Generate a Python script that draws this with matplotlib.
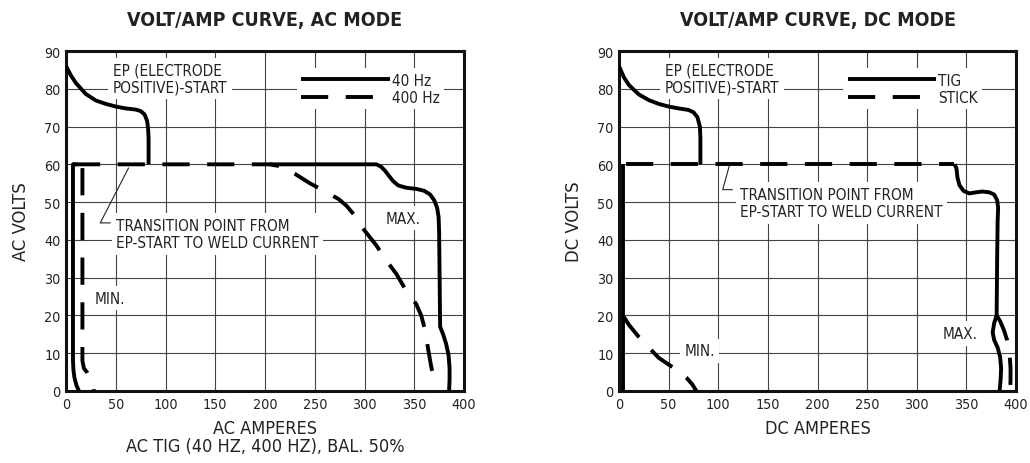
import matplotlib
matplotlib.use('Agg')
from matplotlib import pyplot as plt

plt.rcParams['font.family'] = ['DejaVu Sans']
plt.rcParams['font.stretch'] = 'condensed'

# AC mode, 40 Hz (solid)
ac40_ep_amps = [0, 5, 10, 20, 30, 40, 50, 60, 70, 75, 79, 81.5, 82.5, 83, 83]
ac40_ep_volts = [86, 83.5, 81.5, 78.6, 76.9, 76, 75.3, 74.8, 74.5, 74.1, 73.2, 71.5, 69.5, 67, 60]
ac40_min_amps = [11, 7, 7, 7.5, 8.5, 10.5, 13]
ac40_min_volts = [60, 60, 8, 5.5, 3.5, 1.5, 0]
ac40_max_amps = [205, 300, 312, 317, 321, 325, 329, 334, 342, 352, 360, 366, 370, 373, 374.5,
                 375, 375.5, 376, 379, 382, 384.5, 385.5, 385.5, 385]
ac40_max_volts = [60, 60, 60, 59.3, 58.2, 56.8, 55.5, 54.4, 53.8, 53.5, 53, 52, 50.5, 48.5, 46,
                  42, 30, 17, 15, 12.5, 9.5, 6, 3, 0]

# AC mode, 400 Hz (dashed)
ac400_min_amps = [16.5, 16.5, 18, 21, 24, 26.5, 28]
ac400_min_volts = [59, 8, 6, 5, 3.5, 2, 0]
ac400_max_amps = [7, 205, 215, 230, 245, 262, 274, 282, 290, 300, 312, 322, 332, 342, 352,
                  357, 361, 364, 367, 370]
ac400_max_volts = [60, 60, 59.5, 57.5, 55, 52.6, 50.8, 49, 46.5, 42.5, 38.5, 34.5, 31, 26.5, 23,
                   20, 16, 11, 6.5, 3]

# DC mode, TIG (solid)
tig_ep_amps = [0, 5, 10, 20, 30, 40, 50, 60, 70, 75, 79, 81.5, 82, 82]
tig_ep_volts = [86, 83, 81, 78.5, 77, 76, 75.3, 74.8, 74.4, 73.8, 72.5, 70, 67, 60]
tig_min_amps = [4, 4]
tig_min_volts = [60, 0]
tig_max_amps = [338, 340, 341, 343, 347, 353, 360, 366, 373, 378, 381, 382, 381.5, 381, 380.5,
                378, 376.5, 378, 381.5, 384, 385, 384.5, 383.5]
tig_max_volts = [60, 59, 56.5, 54.5, 53, 52.3, 52.6, 52.8, 52.6, 52, 50.5, 48.5, 45, 35, 20,
                 18, 15.5, 13.5, 11.5, 9, 6, 3, 0]

# DC mode, STICK (dashed)
stick_top_amps = [7, 338]
stick_top_volts = [60, 60]
stick_min_amps = [4, 10, 20, 30, 40, 50, 60, 68, 74, 78]
stick_min_volts = [20, 17.5, 14.3, 11.5, 8.8, 7, 5.3, 3.5, 1.7, 0]
stick_max_amps = [380.5, 384, 388, 391, 393.5, 394.5, 394.5, 394]
stick_max_volts = [20, 18.5, 16, 13.5, 10, 6, 3, 0]

amp_ticks = [0, 50, 100, 150, 200, 250, 300, 350, 400]
volt_ticks = [0, 10, 20, 30, 40, 50, 60, 70, 80, 90]

LW = 2.8
DASH = (7, 4.5)
TXT = '#222222'
FS = 11  # texts inside the plot
box = dict(boxstyle='square,pad=0.3', fc='white', ec='none')


def setup(ax, title, ylabel, xlabel):
    ax.set_xlim(0, 400)
    ax.set_ylim(0, 90)
    ax.set_xticks(amp_ticks)
    ax.set_yticks(volt_ticks)
    ax.grid(True, color='#444444', linewidth=0.8)
    ax.set_axisbelow(True)
    ax.tick_params(length=0, pad=4, labelsize=10.3, colors=TXT)
    for s in ax.spines.values():
        s.set_linewidth(2.2)
        s.set_color('#111111')
    ax.set_title(title, fontsize=14, fontweight='bold', color=TXT, pad=19)
    ax.set_ylabel(ylabel, fontsize=13.2, color=TXT, labelpad=10)
    ax.set_xlabel(xlabel, fontsize=13, color=TXT, labelpad=6, linespacing=1.0)


def solid(ax, x, y, label=None):
    ax.plot(x, y, color='black', lw=LW, solid_capstyle='butt', zorder=4, label=label)


def dashed(ax, x, y, label=None):
    ax.plot(x, y, color='black', lw=LW, dashes=DASH, dash_capstyle='butt', zorder=4, label=label)


fig = plt.figure(figsize=(10.3, 4.64), dpi=100)
ax1 = fig.add_axes([66 / 1030, 72 / 464, 398 / 1030, 340 / 464])
ax2 = fig.add_axes([619 / 1030, 72 / 464, 397 / 1030, 340 / 464])

# ---- AC ----
setup(ax1, 'VOLT/AMP CURVE, AC MODE', 'AC VOLTS', 'AC AMPERES\nAC TIG (40 HZ, 400 HZ), BAL. 50%')
solid(ax1, ac40_ep_amps, ac40_ep_volts)
solid(ax1, ac40_min_amps, ac40_min_volts)
solid(ax1, ac40_max_amps, ac40_max_volts, label='40 Hz')
dashed(ax1, ac400_min_amps, ac400_min_volts)
dashed(ax1, ac400_max_amps, ac400_max_volts, label='400 Hz')

ax1.text(47, 82.7, 'EP (ELECTRODE\nPOSITIVE)-START', fontsize=FS, color=TXT,
         ha='left', va='center', bbox=box, zorder=3, linespacing=1.2)
ax1.text(50.5, 41.6, 'TRANSITION POINT FROM\nEP-START TO WELD CURRENT', fontsize=FS, color=TXT,
         ha='left', va='center', bbox=box, zorder=3, linespacing=1.2)
ax1.plot([62.8, 34.4, 44.4], [59, 44.5, 44.5], color='#222222', lw=0.8, zorder=3)
ax1.text(29, 24.6, 'MIN.', fontsize=FS, color=TXT, ha='left', va='center', bbox=box, zorder=3)
ax1.text(339, 45.7, 'MAX.', fontsize=FS, color=TXT, ha='center', va='center', bbox=box, zorder=3)

# ---- DC ----
setup(ax2, 'VOLT/AMP CURVE, DC MODE', 'DC VOLTS', 'DC AMPERES')
solid(ax2, tig_ep_amps, tig_ep_volts)
solid(ax2, tig_min_amps, tig_min_volts)
solid(ax2, tig_max_amps, tig_max_volts, label='TIG')
dashed(ax2, stick_top_amps, stick_top_volts, label='STICK')
dashed(ax2, stick_min_amps, stick_min_volts)
dashed(ax2, stick_max_amps, stick_max_volts)

ax2.text(46, 82.7, 'EP (ELECTRODE\nPOSITIVE)-START', fontsize=FS, color=TXT,
         ha='left', va='center', bbox=box, zorder=3, linespacing=1.2)
ax2.text(122, 49.8, 'TRANSITION POINT FROM\nEP-START TO WELD CURRENT', fontsize=FS, color=TXT,
         ha='left', va='center', bbox=box, zorder=3, linespacing=1.2)
ax2.plot([111, 104.5, 114], [59.5, 53.3, 53.3], color='#222222', lw=0.8, zorder=3)
ax2.text(81, 10.6, 'MIN.', fontsize=FS, color=TXT, ha='center', va='center', bbox=box, zorder=3)
ax2.text(344, 15.2, 'MAX.', fontsize=FS, color=TXT, ha='center', va='center', bbox=box, zorder=3)

for ax, x0 in [(ax1, 232), (ax2, 226)]:
    leg = ax.legend(loc='upper left', bbox_to_anchor=(x0, 85.5), bbox_transform=ax.transData,
                    borderaxespad=0, borderpad=0.3, handlelength=5.8, handletextpad=0.1,
                    labelspacing=0.15, fontsize=FS, frameon=True, fancybox=False,
                    framealpha=1, facecolor='white', edgecolor='none')
    for t in leg.get_texts():
        t.set_color(TXT)

fig.savefig('out.png', dpi=100)
